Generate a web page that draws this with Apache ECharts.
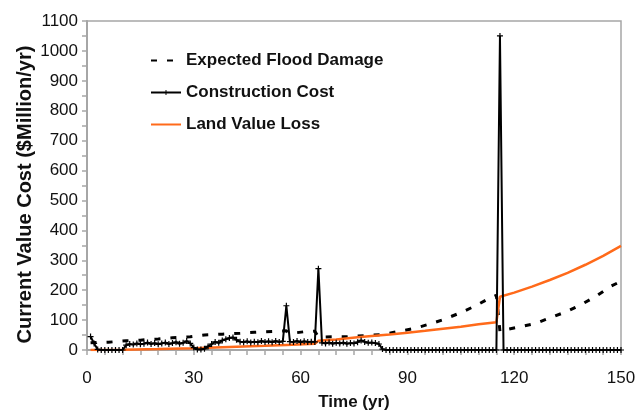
<!DOCTYPE html>
<html>
<head>
<meta charset="utf-8">
<script src="https://cdn.jsdelivr.net/npm/echarts@6/dist/echarts.min.js"></script>
<style>
html,body{margin:0;padding:0;background:#fff;}
#c{width:641px;height:412px;}
</style>
</head>
<body>
<div id="c"></div>
<script>
// ---- data ----
var seriesNames = ['Expected Flood Damage', 'Construction Cost', 'Land Value Loss'];
var xTickLabels = [0, 30, 60, 90, 120, 150];
var yTickLabels = [0, 100, 200, 300, 400, 500, 600, 700, 800, 900, 1000, 1100];

// Construction cost, one value per year, years 1..150
var constructionCost = [
  45, 22, 2, 0, 0, 0, 0, 0, 0, 0,
  16, 20, 18, 22, 19, 21, 25, 20, 23, 19,
  22, 25, 20, 23, 26, 21, 24, 30, 22, 8,
  2, 2, 4, 12, 20, 27, 24, 32, 36, 40,
  42, 34, 28, 26, 29, 25, 28, 26, 30, 27,
  29, 26, 30, 27, 29, 148, 28, 27, 30, 26,
  29, 27, 28, 27, 272, 24, 22, 25, 21, 24,
  22, 25, 21, 23, 22, 26, 32, 27, 24, 25,
  23, 20, 3, 0, 0, 0, 0, 0, 0, 0,
  0, 0, 0, 0, 0, 0, 0, 0, 0, 0,
  0, 0, 0, 0, 0, 0, 0, 0, 0, 0,
  0, 0, 0, 0, 0, 1050, 0, 0, 0, 0,
  0, 0, 0, 0, 0, 0, 0, 0, 0, 0,
  0, 0, 0, 0, 0, 0, 0, 0, 0, 0,
  0, 0, 0, 0, 0, 0, 0, 0, 0, 0
];
var constructionStartYear = 1;

// Expected flood damage (year, value)
var floodYears  = [1, 6, 11, 15, 20, 24, 29, 33, 38, 43, 47, 52, 56, 57, 61, 64, 65, 69, 73, 78, 83, 87, 92, 96, 100, 105, 109, 113, 115, 116, 117, 121, 126, 130, 135, 139, 143, 147, 150];
var floodValues = [24, 26, 31, 33, 37, 41, 44, 50, 53, 56, 59, 62, 64, 55, 61, 63, 43, 44, 44, 48, 52, 61, 72, 86, 101, 125, 147, 173, 183, 62, 66, 76, 89, 107, 130, 153, 180, 212, 230];

// Land value loss (year, value)
var landYears  = [1, 10, 20, 30, 40, 50, 56, 64, 65, 70, 76, 80, 85, 90, 95, 100, 105, 110, 115, 116, 120, 125, 130, 135, 140, 145, 150];
var landValues = [0, 1, 3, 6, 10, 14, 17, 21, 31, 35, 43, 47, 52, 58, 64, 71, 78, 86, 93, 178, 192, 212, 234, 258, 285, 315, 348];

function pairs(xs, ys) {
  var out = [];
  for (var i = 0; i < xs.length; i++) out.push([xs[i], ys[i]]);
  return out;
}
var constructionData = constructionCost.map(function (v, i) { return [constructionStartYear + i, v]; });

var chart = echarts.init(document.getElementById('c'), null, {renderer: 'canvas'});
var font = 'Liberation Sans, Arial, sans-serif';
var axisGray = '#a6a6a6';
var plusSymbol = 'path://M2,0H3V2H5V3H3V5H2V3H0V2H2Z';

chart.setOption({
  animation: false,
  backgroundColor: '#ffffff',
  grid: {
    left: 87, right: 20, top: 21, bottom: 62,
    outerBoundsMode: 'none', containLabel: false,
    show: true, borderColor: axisGray, borderWidth: 1.5, backgroundColor: 'transparent'
  },
  legend: {
    data: [
      {name: seriesNames[0], itemStyle: {opacity: 0}},
      {name: seriesNames[1]},
      {name: seriesNames[2], itemStyle: {opacity: 0}}
    ],
    orient: 'vertical',
    left: 150, top: 52, padding: 0,
    itemWidth: 30, itemHeight: 6, itemGap: 15,
    selectedMode: false,
    textStyle: {fontFamily: font, fontSize: 17, fontWeight: 'bold', color: '#111', lineHeight: 17}
  },
  xAxis: {
    type: 'value', min: 0, max: 150, interval: 30,
    name: 'Time (yr)', nameLocation: 'middle', nameGap: 44, nameMoveOverlap: false,
    nameTextStyle: {fontFamily: font, fontSize: 17, fontWeight: 'bold', color: '#111'},
    axisLine: {show: true, lineStyle: {color: axisGray, width: 2}},
    axisTick: {show: true, inside: false, length: 5, lineStyle: {color: axisGray, width: 1.5}},
    minorTick: {show: true, splitNumber: 6, length: 5, lineStyle: {color: axisGray, width: 1.5}},
    axisLabel: {
      fontFamily: font, fontSize: 17, color: '#111', margin: 20,
      formatter: function (v) { return xTickLabels.indexOf(v) >= 0 ? String(v) : ''; }
    },
    splitLine: {show: false}
  },
  yAxis: {
    type: 'value', min: 0, max: 1100, interval: 100,
    name: 'Current Value Cost ($Million/yr)', nameLocation: 'middle', nameGap: 52, nameMoveOverlap: false,
    nameTextStyle: {fontFamily: font, fontSize: 20, fontWeight: 'bold', color: '#111', padding: [0, 18, 0, 0]},
    axisLine: {show: true, lineStyle: {color: axisGray, width: 2}},
    axisTick: {show: true, inside: false, length: 5, lineStyle: {color: axisGray, width: 1.5}},
    minorTick: {show: true, splitNumber: 2, length: 5, lineStyle: {color: axisGray, width: 1.5}},
    axisLabel: {
      fontFamily: font, fontSize: 17, color: '#111', margin: 9,
      formatter: function (v) { return yTickLabels.indexOf(v) >= 0 ? String(v) : ''; }
    },
    splitLine: {show: false}
  },
  series: [
    {
      name: seriesNames[0], type: 'line', data: pairs(floodYears, floodValues),
      symbol: 'none', z: 2,
      lineStyle: {color: '#000', width: 3, type: [6, 10]},
      itemStyle: {color: '#000'}
    },
    {
      name: seriesNames[2], type: 'line', data: pairs(landYears, landValues),
      symbol: 'none', z: 3,
      lineStyle: {color: '#FF6A1A', width: 2.5},
      itemStyle: {color: '#FF6A1A'}
    },
    {
      name: seriesNames[1], type: 'line', data: constructionData,
      symbol: plusSymbol, symbolSize: 6, showAllSymbol: true, z: 4,
      lineStyle: {color: '#000', width: 2},
      itemStyle: {color: '#000'}
    }
  ]
});
</script>
</body>
</html>
